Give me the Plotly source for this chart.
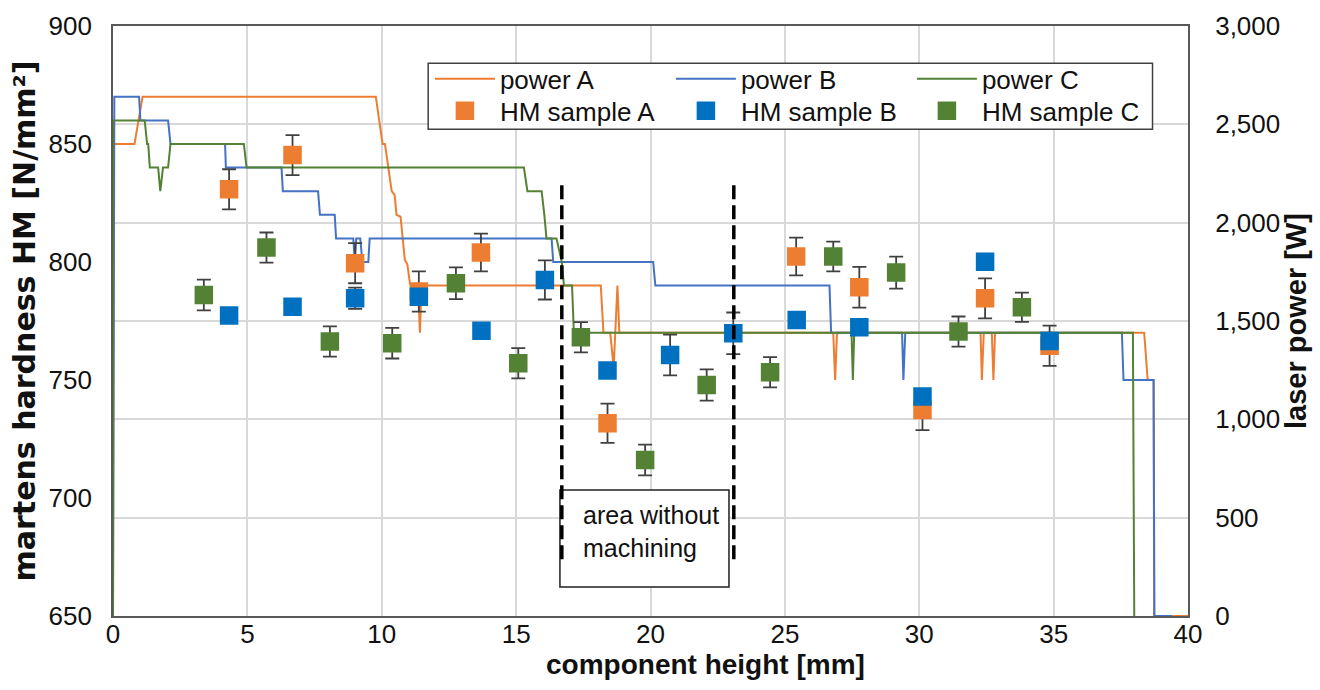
import plotly.graph_objects as go

# ---------------- data ----------------
# laser power curves (component height [mm], laser power [W])
powerA_x = [0, 0.02, 0.8, 1.1, 9.78, 9.9, 10.03, 10.12, 10.37, 10.48, 10.55, 10.7, 10.86, 10.95, 11.05, 11.1,
            11.35, 11.42, 11.48, 18.15, 18.25, 18.5, 18.63, 18.77, 18.84, 26.8, 26.87, 26.94, 32.28, 32.33,
            32.4, 32.7, 32.76, 32.82, 38.37, 38.5, 38.72, 38.74, 40.0]
powerA_y = [0, 2400, 2400, 2640, 2640, 2520, 2400, 2400, 2160, 2140, 2040, 2030, 1810, 1790, 1690, 1680,
            1680, 1440, 1680, 1680, 1440, 1440, 1265, 1680, 1440, 1440, 1200, 1440, 1440, 1200,
            1440, 1440, 1200, 1440, 1440, 1200, 1200, 0, 0]

powerB_x = [0, 0.05, 0.97, 1.02, 2.05, 2.14, 4.17, 4.2, 6.27, 6.32, 7.63, 7.7, 8.25, 8.3, 8.94, 9.0, 9.05,
            9.2, 9.28, 9.5, 9.55, 16.32, 16.38, 20.1, 20.18, 26.66, 26.72, 29.36, 29.41, 29.48, 37.54, 37.6,
            38.72, 38.75, 39.4]
powerB_y = [0, 2640, 2640, 2520, 2520, 2400, 2400, 2280, 2280, 2160, 2160, 2040, 2040, 1920, 1920, 1800, 1920,
            1920, 1800, 1800, 1920, 1920, 1800, 1800, 1680, 1680, 1440, 1440, 1200, 1440, 1440, 1200,
            1200, 0, 0]

powerC_x = [0, 0.01, 1.18, 1.27, 1.31, 1.37, 1.68, 1.76, 1.86, 2.05, 2.14, 4.87, 4.97, 15.29, 15.42, 15.95,
            16.05, 16.13, 16.5, 16.7, 16.78, 17.08, 17.15, 27.48, 27.53, 27.58, 37.95, 38.0]
powerC_y = [0, 2520, 2520, 2400, 2400, 2280, 2280, 2160, 2280, 2280, 2400, 2400, 2280, 2280, 2160, 2160,
            2040, 1920, 1920, 1800, 1680, 1680, 1440, 1440, 1200, 1440, 1440, 0]

# martens hardness samples (component height [mm], HM [N/mm²], error)
hmA_x = [4.32, 6.68, 9.01, 11.38, 13.69, 18.4, 25.42, 27.77, 30.12, 32.45, 34.85]
hmA_y = [830.8, 845.3, 799.5, 787.5, 804.0, 731.7, 802.3, 789.3, 737.3, 784.6, 764.5]
hmA_err = [8.5, 8.5, 8.5, 8.5, 8.0, 8.3, 8.0, 8.6, 8.5, 8.5, 8.5]

hmB_x = [4.32, 6.68, 9.01, 11.38, 13.71, 16.07, 18.4, 20.73, 23.08, 25.44, 27.77, 30.12, 32.45, 34.85]
hmB_y = [777.3, 781.0, 784.6, 785.3, 770.9, 792.4, 754.0, 760.6, 769.8, 775.4, 772.3, 743.0, 800.1, 766.5]
hmB_err = [2.5, 2.5, 4.5, 3.0, 2.5, 8.3, 3.0, 8.6, 8.8, 2.5, 2.5, 3.0, 3.0, 3.0]

hmC_x = [3.38, 5.71, 8.07, 10.39, 12.76, 15.08, 17.41, 19.8, 22.09, 24.45, 26.8, 29.14, 31.46, 33.82]
hmC_y = [786.0, 806.1, 766.3, 765.6, 791.0, 757.1, 768.1, 716.1, 747.9, 753.3, 802.3, 795.5, 770.5, 780.8]
hmC_err = [6.5, 6.4, 6.4, 6.5, 6.7, 6.4, 6.4, 6.5, 6.6, 6.4, 6.3, 6.8, 6.4, 6.2]

# area without machining (component height [mm]) and dashed marker extent (HM)
area_bounds = [16.7, 23.1]
area_dash_hm = [674, 835]
area_box_x = [16.63, 22.92]
area_box_hm = [662.3, 703.4]
area_text = "area without<br>machining"

x_ticks = [0, 5, 10, 15, 20, 25, 30, 35, 40]
hm_ticks = [650, 700, 750, 800, 850, 900]
power_ticks = [0, 500, 1000, 1500, 2000, 2500, 3000]

x_title = "component height [mm]"
hm_title = "martens hardness HM [N/mm²]"
power_title = "laser power [W]"

# ---------------- styling ----------------
FONT = "Liberation Sans, Arial, sans-serif"
WIDE = "DejaVu Sans, Liberation Sans, sans-serif"
TXT = "#111111"
ORANGE = "#ED7D31"
BLUE_L = "#4472C4"
BLUE_M = "#0070C0"
GREEN = "#548235"
ERR = "#404040"
GRID = "#D9D9D9"
AXIS = "#595959"

fig = go.Figure()

# power lines on primary y (power axis, right side)
for name, xs, ys, col in [("power A", powerA_x, powerA_y, ORANGE),
                          ("power B", powerB_x, powerB_y, BLUE_L),
                          ("power C", powerC_x, powerC_y, GREEN)]:
    fig.add_trace(go.Scatter(x=xs, y=ys, mode="lines", name=name, yaxis="y",
                             line=dict(color=col, width=2), legend="legend"))

# hardness markers on overlaying y2 (HM axis, left side) -> drawn on top
for name, xs, ys, es, col in [("HM sample A", hmA_x, hmA_y, hmA_err, ORANGE),
                              ("HM sample B", hmB_x, hmB_y, hmB_err, BLUE_M),
                              ("HM sample C", hmC_x, hmC_y, hmC_err, GREEN)]:
    fig.add_trace(go.Scatter(x=xs, y=ys, mode="markers", name=name, yaxis="y2",
                             marker=dict(symbol="square", size=16, color=col,
                                         line=dict(color=col, width=2.5)),
                             error_y=dict(type="data", array=es, visible=True,
                                          color=ERR, thickness=1.8, width=7),
                             legend="legend2"))

shapes = []
# legend frame
shapes.append(dict(type="rect", xref="paper", yref="paper", x0=0.2932, x1=0.967, y0=0.8249, y1=0.9368,
                   fillcolor="white", line=dict(color=ERR, width=1.5), layer="above"))
# text box
shapes.append(dict(type="rect", xref="x", yref="y2", x0=area_box_x[0], x1=area_box_x[1],
                   y0=area_box_hm[0], y1=area_box_hm[1],
                   fillcolor="white", line=dict(color="#202020", width=1.5), layer="above"))
# dashed boundaries
for xb in area_bounds:
    shapes.append(dict(type="line", xref="x", yref="y2", x0=xb, x1=xb,
                       y0=area_dash_hm[0], y1=area_dash_hm[1],
                       line=dict(color="black", width=3.5, dash="14px,6px"), layer="above"))

annotations = [
    dict(x=17.42, y=685.6, xref="x", yref="y2", text=area_text, showarrow=False,
         xanchor="left", yanchor="middle", align="left",
         font=dict(family=FONT, size=25, color=TXT)),
    dict(x=0.5507, y=-0.0542, xref="paper", yref="paper", text="<b>" + x_title + "</b>",
         showarrow=False, xanchor="center", yanchor="top", borderpad=0,
         font=dict(family=FONT, size=28, color=TXT)),
]

fig.update_layout(
    width=1320, height=690,
    margin=dict(l=113, r=132, t=26, b=74),
    paper_bgcolor="white", plot_bgcolor="white",
    font=dict(family=FONT, size=26, color=TXT),
    showlegend=True,
    legend=dict(orientation="h", x=0.2948, xanchor="left", y=0.9105, yanchor="middle",
                bgcolor="rgba(0,0,0,0)", borderwidth=0, entrywidth=166, entrywidthmode="pixels",
                itemwidth=60, font=dict(family=FONT, size=26, color=TXT),
                traceorder="normal"),
    legend2=dict(orientation="h", x=0.2948, xanchor="left", y=0.8560, yanchor="middle",
                 bgcolor="rgba(0,0,0,0)", borderwidth=0, entrywidth=166, entrywidthmode="pixels",
                 itemwidth=60, font=dict(family=FONT, size=26, color=TXT),
                 traceorder="normal"),
    xaxis=dict(range=[0, 40], tickvals=x_ticks, showgrid=True, gridcolor=GRID, gridwidth=1.5,
               showline=True, linecolor=AXIS, linewidth=2, mirror=True, zeroline=False,
               ticks="", ticklabelstandoff=-6,
               tickfont=dict(family=FONT, size=26, color=TXT)),
    yaxis=dict(range=[0, 3000], tickvals=power_ticks, tickformat=",", side="right",
               showgrid=True, gridcolor=GRID, gridwidth=1.5,
               showline=True, linecolor=AXIS, linewidth=2, mirror=True, zeroline=False,
               ticks="", ticklabelstandoff=20,
               tickfont=dict(family=FONT, size=26, color=TXT),
               title=dict(text="<b>" + power_title + "</b>", standoff=6,
                          font=dict(family=FONT, size=29, color=TXT))),
    yaxis2=dict(range=[650, 900], tickvals=hm_ticks, overlaying="y", side="left",
                showgrid=False, zeroline=False, showline=False,
                ticks="", ticklabelstandoff=20,
                tickfont=dict(family=FONT, size=26, color=TXT),
                title=dict(text="<b>" + hm_title + "</b>", standoff=4,
                           font=dict(family=WIDE, size=30, color=TXT))),
    shapes=shapes,
    annotations=annotations,
)

fig.write_html("out.html")
